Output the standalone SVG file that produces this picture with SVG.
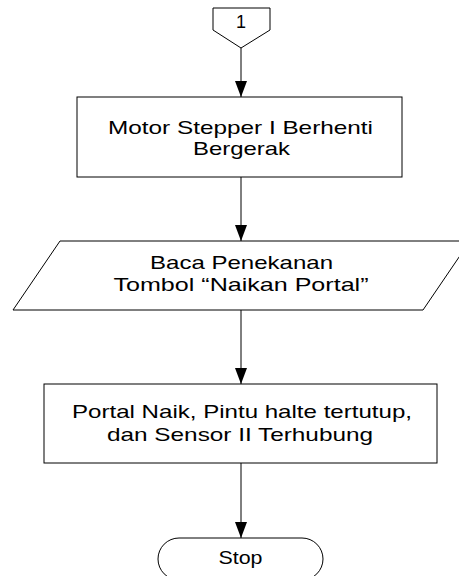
<svg xmlns="http://www.w3.org/2000/svg" width="459" height="576" viewBox="0 0 459 576">
<defs>
<marker id="ah" markerWidth="16" markerHeight="12" refX="16" refY="6" orient="auto" markerUnits="userSpaceOnUse">
<path d="M0,0 L16,6 L0,12 Z" fill="#000"/>
</marker>
<style>
.s{fill:#fff;stroke:#000;stroke-width:1}
.t{font-family:"Liberation Sans",Arial,sans-serif;font-size:18.5px;fill:#000;text-anchor:middle}
.c{stroke:#000;stroke-width:1;fill:none}
</style>
</defs>
<rect width="459" height="576" fill="#fff"/>
<g id="connectors">
<line class="c" x1="241" y1="48" x2="241" y2="97" marker-end="url(#ah)"/>
<line class="c" x1="241" y1="177" x2="241" y2="241" marker-end="url(#ah)"/>
<line class="c" x1="241" y1="310" x2="241" y2="384" marker-end="url(#ah)"/>
<line class="c" x1="241" y1="463" x2="241" y2="538" marker-end="url(#ah)"/>
</g>
<g id="n1">
<polygon class="s" points="213,8 270,8 270,30 241,48 213,30"/>
<text class="t" x="241" y="28" textLength="10" lengthAdjust="spacingAndGlyphs">1</text>
</g>
<g id="n2">
<rect class="s" x="77" y="97" width="325" height="80"/>
<text class="t" x="240.5" y="134" textLength="265" lengthAdjust="spacingAndGlyphs">Motor Stepper I Berhenti</text>
<text class="t" x="241.5" y="155" textLength="97" lengthAdjust="spacingAndGlyphs">Bergerak</text>
</g>
<g id="n3">
<polygon class="s" points="60,241 470,241 423,310 13,310"/>
<text class="t" x="241.5" y="269" textLength="183" lengthAdjust="spacingAndGlyphs">Baca Penekanan</text>
<text class="t" x="241" y="291" textLength="255" lengthAdjust="spacingAndGlyphs">Tombol “Naikan Portal”</text>
</g>
<g id="n4">
<rect class="s" x="44" y="384" width="393" height="79"/>
<text class="t" x="242" y="418" textLength="340" lengthAdjust="spacingAndGlyphs">Portal Naik, Pintu halte tertutup,</text>
<text class="t" x="240" y="441" textLength="266" lengthAdjust="spacingAndGlyphs">dan Sensor II Terhubung</text>
</g>
<g id="n5">
<rect class="s" x="158" y="538" width="165" height="42" rx="21" ry="21"/>
<text class="t" x="240.5" y="564" textLength="44" lengthAdjust="spacingAndGlyphs">Stop</text>
</g>
</svg>
